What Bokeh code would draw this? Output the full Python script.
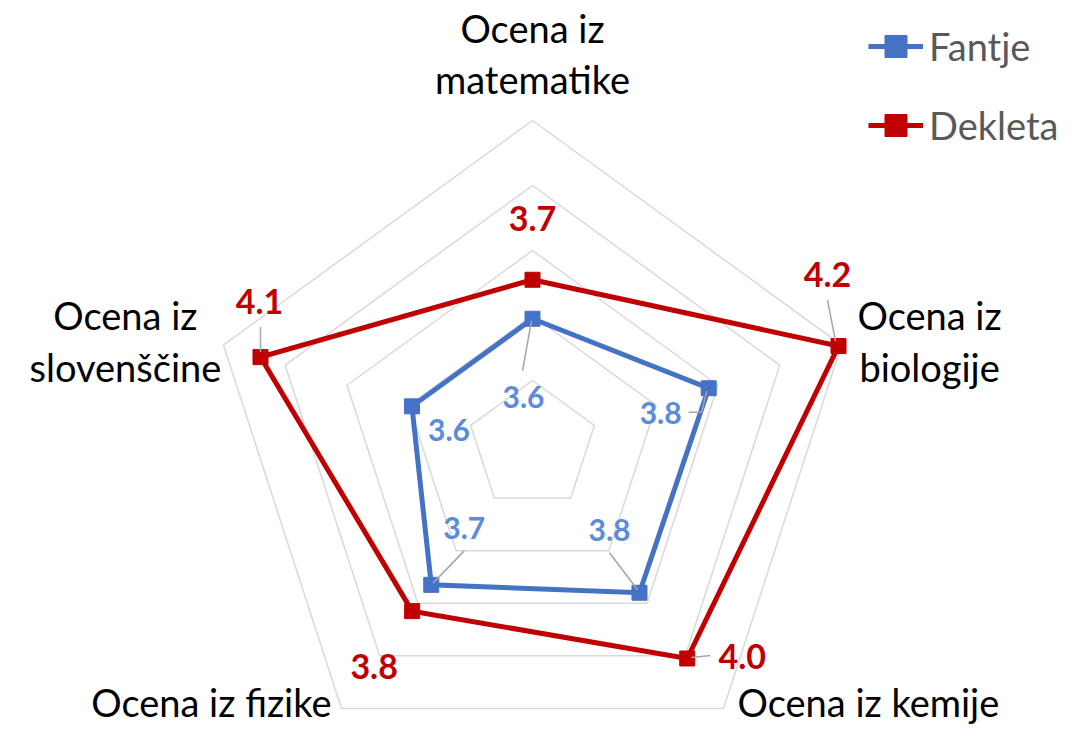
import numpy as np
from bokeh.plotting import figure
from bokeh.models import ColumnDataSource, Range1d, Legend, LegendItem
from bokeh.core.properties import value
from bokeh.embed import file_html
from bokeh.resources import INLINE

# ---------------- data ----------------
categories = ["Ocena iz\nmatematike", "Ocena iz\nbiologije", "Ocena iz kemije",
              "Ocena iz fizike", "Ocena iz\nslovenščine"]
fantje = [3.59, 3.77, 3.76, 3.73, 3.59]
dekleta = [3.71, 4.19, 4.01, 3.83, 4.08]
grid_levels = [3.4, 3.6, 3.8, 4.0, 4.2]
axis_min = 3.2
axis_max = 4.2
series_names = ["Fantje", "Dekleta"]

# ---------------- styling / layout ----------------
FONT = "Lato"
BLUE = "#4472C4"
RED = "#C00000"
BLUE_LBL = "#5B8BDB"
GRID = "#D9D9D9"
LEADER = "#A6A6A6"
PX = 325.0  # pixels per value unit (radius of outer ring = 1.0)
W, H = 1064, 724
CX, CY = 532, 445  # centre in frame pixels

n = len(categories)
ang = np.pi / 2 - np.arange(n) * 2 * np.pi / n


def polar(vals):
    r = np.asarray(vals, dtype=float) - axis_min
    return r * np.cos(ang), r * np.sin(ang)


p = figure(width=W, height=H, output_backend="svg", toolbar_location=None,
           x_range=Range1d(-CX / PX, (W - CX) / PX),
           y_range=Range1d(-(H - CY) / PX, CY / PX),
           min_border=0)
p.axis.visible = False
p.grid.visible = False
p.outline_line_color = None
p.background_fill_color = "white"

# grid pentagons
gx, gy = [], []
for lv in grid_levels:
    x, y = polar([lv] * n)
    gx.append(list(x) + [x[0]])
    gy.append(list(y) + [y[0]])
p.multi_line(gx, gy, line_color=GRID, line_width=1.5)

# series
renderers = {}
for name, vals, col in [("Fantje", fantje, BLUE), ("Dekleta", dekleta, RED)]:
    x, y = polar(vals)
    lr = p.line(list(x) + [x[0]], list(y) + [y[0]], line_color=col, line_width=5,
                line_join="miter")
    sr = p.scatter(x, y, marker="square", size=15, fill_color=col, line_color=col)
    renderers[name] = (lr, sr)

# leader lines (pixel offsets relative to the data point)
leaders_f = {0: [(-10, 52), (-1, 2)], 1: [(-20, 24), (-7, 24), (-2, 3)],
             2: [(-30, -40), (-2, -3)], 3: [(33, -34), (2, -2)]}
leaders_d = {1: [(-11, -46), (-3, -5)], 2: [(23, -3), (4, -1)], 4: [(0, -30), (0, -5)]}
lx, ly = [], []
for vals, leaders in [(fantje, leaders_f), (dekleta, leaders_d)]:
    x, y = polar(vals)
    for k, pts in leaders.items():
        lx.append([x[k] + dx / PX for dx, dy in pts])
        ly.append([y[k] - dy / PX for dx, dy in pts])
p.multi_line(lx, ly, line_color=LEADER, line_width=1.5)

# data labels
off_f = [(-9, 78), (-48, 25), (-30, -63), (33, -57), (37, 24)]
off_d = [(0, -61), (-11, -72), (55, -2), (-38, 55), (-1, -56)]
for vals, offs, col, fs in [(fantje, off_f, BLUE_LBL, "30px"), (dekleta, off_d, RED, "34px")]:
    x, y = polar(vals)
    src = ColumnDataSource(dict(x=x, y=y, t=[f"{v:.1f}" for v in vals],
                                xo=[o[0] for o in offs], yo=[o[1] for o in offs]))
    p.text("x", "y", text="t", x_offset="xo", y_offset="yo", source=src,
           text_font=value(FONT), text_font_style="bold", text_font_size=fs,
           text_color=col, text_align="center", text_baseline="middle")

# category labels
vx, vy = polar([axis_max] * n)
cat_off = [(0, -67), (88, -4), (14, -6), (-10, -6), (-98, -4)]
cat_align = ["center", "center", "left", "right", "center"]
src = ColumnDataSource(dict(x=vx, y=vy, t=categories, xo=[o[0] for o in cat_off],
                            yo=[o[1] for o in cat_off], al=cat_align))
p.text("x", "y", text="t", x_offset="xo", y_offset="yo", text_align="al", source=src,
       text_font=value(FONT), text_font_size="38px", text_color="#000000",
       text_baseline="middle", text_line_height=1.12)

# legend (rows 76 px high, 3 px apart; placed by its bottom-left corner)
items = [LegendItem(label=nm, renderers=list(renderers[nm])) for nm in series_names]
legend = Legend(items=items, location=(868, 561), margin=0, padding=0,
                border_line_alpha=0, background_fill_alpha=0,
                glyph_width=55, glyph_height=76, label_height=76, spacing=3,
                label_standoff=6, label_text_font=FONT, label_text_font_size="38px",
                label_text_color="#595959")
p.add_layout(legend)

open("out.html", "w").write(file_html(p, INLINE))
